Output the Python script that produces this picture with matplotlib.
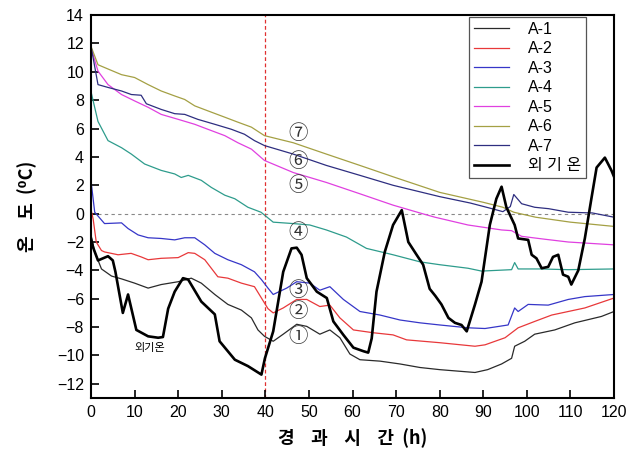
#!/usr/bin/env python3
"""Temperature history of points A-1 .. A-7 against outdoor air temperature."""

import matplotlib

matplotlib.use("Agg")
import matplotlib.pyplot as plt

plt.rcParams["font.family"] = ["Liberation Sans", "Noto Sans CJK KR", "DejaVu Sans"]

# elapsed time (h) / temperature (degC)
A1_T = [0, 0.85, 2.4, 4.7, 7, 10, 13.1, 16.1, 20, 23, 25.3, 28.4, 31.4, 34.5, 36.8,
        38.3, 39.8, 41.8, 44.1, 47.2, 49.5, 52.5, 54.8, 57.1, 59.4, 61.7, 66.3, 70.9,
        75.5, 80, 84, 88.1, 91, 94.2, 96.5, 97.2, 99.5, 101.8, 106.4, 111, 117.1, 120]
A1_V = [-1.5, -2.7, -3.9, -4.4, -4.6, -4.9, -5.25, -5.0, -4.8, -4.55, -4.9, -5.7, -6.4,
        -6.8, -7.35, -8.2, -8.65, -9.0, -8.5, -7.8, -7.95, -8.5, -8.2, -8.75, -9.9, -10.3,
        -10.4, -10.6, -10.85, -11.0, -11.1, -11.2, -11.0, -10.6, -10.2, -9.35, -9.0, -8.5,
        -8.2, -7.7, -7.25, -6.9]

A2_T = [0, 0.5, 1.2, 2.4, 3.1, 6.2, 9.2, 11.5, 13.1, 16.1, 20, 22.3, 23.8, 26.1, 29.1,
        31.4, 34.5, 37.5, 39.1, 40.6, 41.8, 44.1, 47.2, 49.5, 52.5, 54.8, 57.1, 60.2, 64.8,
        69.3, 72.4, 80, 88.1, 90.4, 95, 98, 101.8, 105.7, 109.5, 113.3, 120]
A2_V = [0.3, -0.4, -2.0, -2.6, -2.7, -2.9, -2.8, -3.05, -3.25, -3.15, -3.1, -2.75, -2.8,
        -3.25, -4.45, -4.55, -4.9, -5.15, -5.95, -6.7, -7.0, -6.65, -6.05, -6.05, -6.55,
        -6.45, -7.35, -8.2, -8.4, -8.55, -8.9, -9.1, -9.35, -9.25, -8.75, -8.05, -7.6,
        -7.15, -6.9, -6.65, -5.95]

A3_T = [0, 0.85, 3.1, 7, 8.5, 10.8, 13.1, 16.1, 19.2, 21.5, 23.8, 26.1, 28.4, 31.4, 34.5,
        37.5, 39.1, 40.6, 41.8, 44.9, 47.2, 50.2, 52.5, 54.8, 57.9, 61.7, 66.3, 70.9, 75.5,
        80, 86.5, 90.4, 95.7, 97.2, 98, 100.3, 104.9, 109.5, 113.3, 120]
A3_V = [2.3, 0.1, -0.7, -0.65, -1.05, -1.5, -1.7, -1.75, -1.85, -1.7, -1.7, -2.2, -2.8,
        -3.25, -3.6, -4.1, -4.65, -5.25, -5.7, -5.25, -4.8, -4.9, -5.4, -5.15, -6.05, -6.9,
        -7.15, -7.5, -7.7, -7.85, -8.05, -8.1, -7.85, -6.65, -6.9, -6.4, -6.45, -6.05,
        -5.85, -5.7]

A4_T = [0, 1.6, 3.9, 7, 9.25, 12.3, 16.1, 19.2, 20.7, 22.3, 25.3, 27.6, 30.7, 33, 36, 39,
        41.8, 46.4, 50.2, 54, 58.6, 63.2, 69.3, 75.5, 80, 86.5, 89.6, 96.5, 97.2, 98, 103,
        109.5, 120]
A4_V = [8.6, 6.5, 5.15, 4.65, 4.2, 3.5, 3.05, 2.8, 2.55, 2.7, 2.35, 1.85, 1.3, 1.05, 0.45,
        0.1, -0.6, -0.7, -0.8, -1.15, -1.65, -2.45, -2.9, -3.4, -3.6, -3.85, -4.05, -3.95,
        -3.45, -3.9, -3.9, -3.95, -3.9]

A5_T = [0, 1.6, 3.9, 7, 10, 13.1, 16.1, 20, 23.8, 26.8, 30.7, 33.7, 36.8, 39.8, 46.4, 54,
        61.7, 69.3, 76, 78.9, 86.5, 94.2, 96.5, 98.8, 104, 109.5, 120]
A5_V = [11.7, 10.05, 9.1, 8.4, 7.95, 7.5, 7.0, 6.65, 6.3, 5.95, 5.5, 5.0, 4.55, 3.75, 2.9,
        2.2, 1.4, 0.6, 0.0, -0.25, -0.8, -1.15, -1.2, -1.6, -1.8, -2.0, -2.2]

A6_T = [0, 1.6, 3.9, 7, 10, 13.1, 16.1, 19.2, 21.5, 23.8, 26.8, 30.7, 33.7, 36.8, 39.8,
        46.4, 54, 61.7, 69.3, 80, 85, 90, 94.5, 97, 102, 110, 120]
A6_V = [11.8, 10.5, 10.2, 9.8, 9.6, 9.1, 8.65, 8.3, 8.05, 7.6, 7.25, 6.8, 6.45, 6.1, 5.5,
        5.0, 4.2, 3.4, 2.6, 1.5, 1.15, 0.8, 0.45, 0.1, -0.25, -0.6, -0.9]

A7_T = [0, 1.6, 3.9, 7, 9.25, 11.5, 12.7, 16.1, 19.2, 21.5, 24.5, 28.4, 32.2, 35.2, 37.5,
        39.8, 46.4, 54, 61.7, 69.3, 80, 87, 92, 94.5, 96.2, 97, 98.8, 101.8, 105, 109.5,
        115, 120]
A7_V = [11.8, 9.1, 8.9, 8.65, 8.4, 8.35, 7.75, 7.35, 7.05, 7.0, 6.65, 6.3, 5.95, 5.6, 5.15,
        4.8, 4.2, 3.4, 2.7, 2.0, 1.2, 0.75, 0.35, 0.14, 0.5, 1.35, 0.7, 0.45, 0.35, 0.1,
        0.05, -0.25]

OUT_T = [0, 0.5, 1.6, 3.9, 5.0, 5.6, 7.3, 8.5, 10.4, 13.1, 15.4, 16.5, 17.7, 19.2, 21.1,
         22.3, 25.3, 28.4, 29.5, 33.0, 36.0, 39.1, 39.9, 41.8, 44.1, 46.0, 47.2, 48.3, 49.5,
         51.8, 54.1, 55.6, 57.9, 60.2, 62.5, 63.6, 64.4, 65.5, 67.4, 69.3, 71.3, 72.8, 74.7,
         76.2, 77.7, 79.0, 80.4, 82.0, 83.5, 85.0, 86.2, 88.1, 89.6, 91.5, 93.0, 94.2, 95.3,
         97.2, 98.0, 100.3, 101.1, 102.2, 103.4, 104.9, 106.0, 107.2, 108.3, 109.5, 110.2,
         111.8, 113.3, 114.8, 116.0, 117.9, 119.4, 120]
OUT_V = [-1.8, -2.4, -3.3, -3.0, -3.3, -4.1, -7.0, -5.7, -8.2, -8.65, -8.75, -8.7, -6.7,
         -5.5, -4.55, -4.65, -6.2, -7.1, -9.0, -10.3, -10.75, -11.35, -10.2, -8.3, -4.1,
         -2.45, -2.4, -2.9, -4.55, -5.5, -5.95, -7.6, -8.55, -9.45, -9.7, -9.8, -8.8, -5.5,
         -2.7, -0.8, 0.25, -2.0, -2.9, -3.6, -5.3, -5.8, -6.4, -7.35, -7.7, -7.85, -8.3,
         -6.4, -4.8, -0.8, 1.05, 1.9, 0.45, -0.8, -1.75, -1.85, -2.9, -3.15, -3.85, -3.75,
         -3.05, -2.9, -4.3, -4.45, -5.0, -4.0, -1.75, 1.05, 3.25, 3.95, 3.05, 2.6]

SERIES = [
    ("A-1", A1_T, A1_V, "#2a2a2a"),
    ("A-2", A2_T, A2_V, "#e8383a"),
    ("A-3", A3_T, A3_V, "#3636c8"),
    ("A-4", A4_T, A4_V, "#2e9c8c"),
    ("A-5", A5_T, A5_V, "#e040e0"),
    ("A-6", A6_T, A6_V, "#a4a044"),
    ("A-7", A7_T, A7_V, "#2e2e80"),
]

# circled point markers: (label, time, temperature)
MARKERS = [("①", 47.5, -8.65), ("②", 47.5, -6.9), ("③", 47.5, -5.4), ("④", 47.5, -1.3),
           ("⑤", 47.5, 2.0), ("⑥", 47.5, 3.65), ("⑦", 47.5, 5.65)]

KR = ["Noto Sans CJK KR", "DejaVu Sans"]


def main() -> None:
    fig = plt.figure(figsize=(6.29, 4.58), dpi=100)
    ax = fig.add_axes([0.1447, 0.131, 0.8315, 0.836])

    ax.axhline(0, color="#888888", lw=0.8, ls=(0, (3, 3)), zorder=1)
    ax.axvline(40, color="#e03030", lw=0.9, ls=(0, (3, 2)), zorder=1)

    for label, t, v, color in SERIES:
        ax.plot(t, v, color=color, lw=0.9, label=label, zorder=2)
    ax.plot(OUT_T, OUT_V, color="black", lw=1.9, label="외 기 온", zorder=3)

    for text, t, v in MARKERS:
        ax.text(t, v, text, fontsize=14, ha="center", va="center", color="#333333",
                family=KR)
    ax.text(13.5, -9.45, "외기온", fontsize=8, ha="center", va="center", family=KR)

    ax.set_xlim(0, 120)
    ax.set_ylim(-13, 14)
    ax.set_xticks(range(0, 121, 10))
    ax.set_yticks(range(-12, 15, 2))
    ax.tick_params(direction="in", length=6, width=1.2, labelsize=11.5, pad=5)
    for spine in ax.spines.values():
        spine.set_linewidth(1.5)

    ax.set_xlabel("경    과    시    간  (h)", fontsize=13, fontweight="bold",
                  labelpad=6, family=KR)
    ax.set_ylabel("온    도  (⁰C)", fontsize=13, fontweight="bold", labelpad=14,
                  family=KR)

    leg = ax.legend(loc="upper right", bbox_to_anchor=(0.947, 0.995), fontsize=11.5,
                    frameon=True, fancybox=False, framealpha=1, edgecolor="#555555",
                    handlelength=2.2, handletextpad=1.2, labelspacing=0.28,
                    borderpad=0.3, borderaxespad=0)
    leg.get_frame().set_linewidth(0.9)

    fig.savefig("out.png", dpi=100)
    plt.close(fig)


if __name__ == "__main__":
    main()
